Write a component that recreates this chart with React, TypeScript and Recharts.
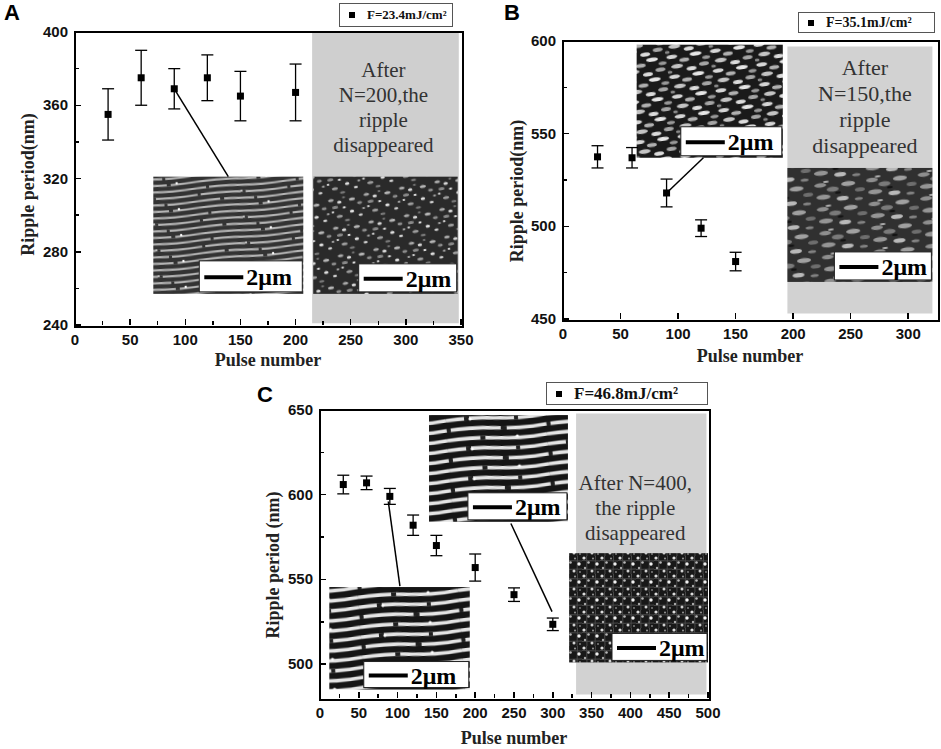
import React from 'react';
import {
  ScatterChart,
  Scatter,
  XAxis,
  YAxis,
  ErrorBar,
  ReferenceArea,
  ReferenceLine,
  Legend,
} from 'recharts';

// panel A, F=23.4 mJ/cm2
const pulsesA = [30, 60, 90, 120, 150, 200];
const periodA = [355, 375, 369, 375, 365, 367];
const errA = [14, 15, 11, 12.5, 13.5, 15.5];
const xTicksA = [0, 25, 50, 75, 100, 125, 150, 175, 200, 225, 250, 275, 300, 325, 350];
const yTicksA = [240, 260, 280, 300, 320, 340, 360, 380, 400];

// panel B, F=35.1 mJ/cm2
const pulsesB = [30, 60, 90, 120, 150];
const periodB = [537.5, 537, 518, 499, 481];
const errB = [6, 5.5, 7.5, 4.5, 5];
const xTicksB = [0, 50, 100, 150, 200, 250, 300];
const yTicksB = [450, 475, 500, 525, 550, 575, 600];

// panel C, F=46.8 mJ/cm2
const pulsesC = [30, 60, 90, 120, 150, 200, 250, 300];
const periodC = [606, 607, 599, 582, 570, 557, 541, 523.5];
const errC = [5.5, 4, 4.7, 6, 6, 8, 4, 3.7];
const xTicksC = [0, 25, 50, 75, 100, 125, 150, 175, 200, 225, 250, 275, 300, 325, 350, 375, 400, 425, 450, 475, 500];
const yTicksC = [500, 525, 550, 575, 600, 625, 650];

const build = (xs: number[], ys: number[], es: number[]) =>
  xs.map((x, i) => ({ x, y: ys[i], err: es[i] }));

const SERIF = '"Liberation Serif", "Times New Roman", serif';
const NARROW = '"Liberation Sans Narrow", "Arial Narrow", "Liberation Sans", Arial, sans-serif';

const Square = (p: any) => <rect x={p.cx - 3.5} y={p.cy - 3.5} width={7} height={7} fill="#000" />;

const xTick = (step: number) => (p: any) => {
  const v = p.payload.value;
  if (v % step !== 0) return <g />;
  return (
    <text x={p.x} y={p.y + 20} textAnchor="middle" fontFamily={NARROW} fontWeight="bold" fontSize={15} fill="#111">
      {v}
    </text>
  );
};

const yTick = (step: number) => (p: any) => {
  const v = p.payload.value;
  if (v % step !== 0) return <g />;
  return (
    <text x={p.x - 7} y={p.y + 5} textAnchor="end" fontFamily={NARROW} fontWeight="bold" fontSize={15} fill="#111">
      {v}
    </text>
  );
};

// box frame with inward ticks, laid over the plot box of a chart (plain html boxes)
type FrameProps = {
  left: number; top: number; w: number; h: number;
  xd: number[]; yd: number[]; xt: number[]; yt: number[]; xs: number; ys: number;
};
const PlotFrame = ({ left, top, w, h, xd, yd, xt, yt, xs, ys }: FrameProps) => {
  const px = (v: number) => ((v - xd[0]) / (xd[1] - xd[0])) * w;
  const py = (v: number) => h - ((v - yd[0]) / (yd[1] - yd[0])) * h;
  const mark = { position: 'absolute' as const, background: '#000' };
  return (
    <div style={{ position: 'absolute', left, top, width: w, height: h, pointerEvents: 'none' }}>
      <div style={{ position: 'absolute', left: -1, top: -1, width: w, height: h, border: '2px solid #000' }} />
      {xt.map((v) => {
        const len = v % xs === 0 ? 6 : 4;
        return <div key={`x${v}`} style={{ ...mark, left: px(v) - 0.75, top: h - len, width: 1.5, height: len }} />;
      })}
      {yt.map((v) => {
        const len = v % ys === 0 ? 6 : 4;
        return <div key={`y${v}`} style={{ ...mark, left: 0, top: py(v) - 0.75, width: len, height: 1.5 }} />;
      })}
    </div>
  );
};

const yLabel = (text: string, dx: number, dy: number) => (p: any) => {
  const vb = p.viewBox;
  const cx = vb.x + vb.width - dx;
  const cy = vb.y + vb.height / 2 + dy;
  return (
    <text x={cx} y={cy} transform={`rotate(-90 ${cx} ${cy})`} textAnchor="middle" dominantBaseline="central"
      fontFamily={SERIF} fontWeight="bold" fontSize={18} fill="#222">
      {text}
    </text>
  );
};

const xLabel = (text: string, dy: number) => (p: any) => {
  const vb = p.viewBox;
  return (
    <text x={vb.x + vb.width / 2} y={vb.y + dy} textAnchor="middle" fontFamily={SERIF} fontWeight="bold" fontSize={18} fill="#222">
      {text}
    </text>
  );
};

const grayText = (lines: string[], top: number, gap: number, size: number, dx: number) => (p: any) => {
  const vb = p.viewBox;
  return (
    <g>
      {lines.map((l, i) => (
        <text key={i} x={vb.x + vb.width / 2 + dx} y={vb.y + top + i * gap} textAnchor="middle"
          fontFamily={SERIF} fontSize={size} fill="#333">
          {l}
        </text>
      ))}
    </g>
  );
};

// micrograph inset with its 2 µm scale box
const inset = (pattern: string, bw: number, bh: number) => (p: any) => {
  const bx = p.x + p.width - bw - 1;
  const by = p.y + p.height - bh - 2;
  return (
    <g>
      <rect x={p.x} y={p.y} width={p.width} height={p.height} fill={`url(#${pattern})`} />
      <rect x={bx} y={by} width={bw} height={bh} fill="#fff" stroke="#222" strokeWidth={1} />
      <line x1={bx + 5} x2={bx + 44} y1={by + bh / 2 + 1} y2={by + bh / 2 + 1} stroke="#000" strokeWidth={4} />
      <text x={bx + 47} y={by + bh / 2 + 9} fontFamily={SERIF} fontWeight="bold" fontSize={24} fill="#000">
        2μm
      </text>
    </g>
  );
};

const legendBox = (left: number, top: number, w: number, h: number, size: number) => (
  <Legend
    layout="horizontal"
    verticalAlign="middle"
    align="center"
    wrapperStyle={{ position: 'absolute', left, top, width: w, height: h }}
    content={(p: any) => (
      <div style={{
        boxSizing: 'border-box', width: w, height: h, border: '1px solid #555', display: 'flex',
        alignItems: 'center', paddingLeft: 9, fontFamily: SERIF, fontWeight: 'bold', fontSize: size, color: '#111',
        background: '#fff',
      }}>
        <span style={{ width: 6, height: 6, background: '#000', marginRight: 12, display: 'inline-block' }} />
        <span>{p.payload && p.payload[0] ? p.payload[0].value : ''}</span>
      </div>
    )}
  />
);

// stripes with breaks at different places in each row
const stripeRows = (w: number, rowH: number, rows: number, light: string, dark: string, sw: number, dashes: string[]) =>
  Array.from({ length: rows }).map((_, i) => {
    const y = rowH * i + rowH / 2;
    const d = `M0 ${y} Q${w / 4} ${y - rowH * 0.2} ${w / 2} ${y + rowH * 0.05} T${w} ${y}`;
    return (
      <g key={i}>
        <path d={d} stroke={light} strokeWidth={sw} fill="none" />
        <path d={d} stroke={dark} strokeWidth={sw + 0.4} fill="none" strokeDasharray={dashes[i % dashes.length]} />
      </g>
    );
  });

const Patterns = () => (
  <svg width={0} height={0} style={{ position: 'absolute' }}>
    <defs>
      <pattern id="ripA" width={90} height={26} patternUnits="userSpaceOnUse" patternTransform="rotate(-5)">
        <rect width={90} height={26} fill="#333" />
        {stripeRows(90, 6.5, 4, '#b4b4b4', '#333', 2.2, ['3 40 5 42', '0 22 4 30 3 31', '0 60 4 26', '0 9 3 78'])}
        <circle cx={44} cy={3} r={1} fill="#eee" />
        <circle cx={70} cy={16} r={1.2} fill="#fff" />
      </pattern>
      <pattern id="dotsA" width={36} height={28} patternUnits="userSpaceOnUse" patternTransform="rotate(-10)">
        <rect width={36} height={28} fill="#2a2a2a" />
        <ellipse cx={3} cy={3} rx={2.8} ry={1.5} fill="#a8a8a8" />
        <ellipse cx={11} cy={6} rx={2.2} ry={1.6} fill="#d8d8d8" />
        <ellipse cx={6} cy={10.5} rx={3} ry={1.5} fill="#8a8a8a" />
        <ellipse cx={15} cy={12} rx={1.6} ry={1} fill="#eee" />
        <ellipse cx={16} cy={2} rx={1.5} ry={1} fill="#777" />
        <ellipse cx={24} cy={5} rx={3} ry={1.6} fill="#b5b5b5" />
        <ellipse cx={31} cy={10} rx={2.5} ry={1.4} fill="#8c8c8c" />
        <ellipse cx={22} cy={17} rx={2.2} ry={1.5} fill="#e0e0e0" />
        <ellipse cx={9} cy={20} rx={3} ry={1.6} fill="#9c9c9c" />
        <ellipse cx={30} cy={22} rx={2} ry={1.3} fill="#cfcfcf" />
        <ellipse cx={16} cy={25} rx={2.6} ry={1.3} fill="#777" />
        <ellipse cx={3} cy={15} rx={1.4} ry={1} fill="#ddd" />
        <ellipse cx={34} cy={16} rx={1.5} ry={1} fill="#aaa" />
      </pattern>
      <pattern id="blobB" width={44} height={20} patternUnits="userSpaceOnUse" patternTransform="rotate(-8)">
        <rect width={44} height={20} fill="#1a1a1a" />
        <ellipse cx={6} cy={3} rx={5.5} ry={2} fill="#d6d6d6" />
        <ellipse cx={18} cy={7.5} rx={5} ry={2} fill="#b0b0b0" />
        <ellipse cx={30} cy={3} rx={6} ry={2.1} fill="#e6e6e6" />
        <ellipse cx={40} cy={8} rx={4} ry={1.8} fill="#999" />
        <ellipse cx={10} cy={13} rx={6} ry={2.2} fill="#c4c4c4" />
        <ellipse cx={24} cy={17} rx={5} ry={2} fill="#dcdcdc" />
        <ellipse cx={37} cy={14} rx={5} ry={2} fill="#a5a5a5" />
        <ellipse cx={2} cy={18} rx={2.5} ry={1.5} fill="#888" />
      </pattern>
      <pattern id="mottleB" width={52} height={24} patternUnits="userSpaceOnUse" patternTransform="rotate(-6)">
        <rect width={52} height={24} fill="#303030" />
        <ellipse cx={7} cy={4} rx={6} ry={2.2} fill="#8e8e8e" />
        <ellipse cx={19} cy={9} rx={6} ry={2.5} fill="#7a7a7a" />
        <ellipse cx={13} cy={1} rx={3} ry={1} fill="#b4b4b4" />
        <ellipse cx={35} cy={5} rx={7} ry={2.5} fill="#a0a0a0" />
        <ellipse cx={46} cy={12} rx={5} ry={2} fill="#6e6e6e" />
        <ellipse cx={9} cy={16} rx={7} ry={2.5} fill="#959595" />
        <ellipse cx={28} cy={19} rx={6} ry={2.3} fill="#b9b9b9" />
        <ellipse cx={44} cy={21} rx={4} ry={1.6} fill="#828282" />
        <ellipse cx={24} cy={13} rx={3} ry={1.2} fill="#141414" />
      </pattern>
      <pattern id="ripC" width={100} height={30} patternUnits="userSpaceOnUse" patternTransform="rotate(-4)">
        <rect width={100} height={30} fill="#151515" />
        {stripeRows(100, 10, 3, '#e4e4e4', '#202020', 3.6, ['0 18 5 45 4 28', '4 50 6 40', '0 33 5 62'])}
        <circle cx={24} cy={4.8} r={1.6} fill="#fff" />
        <circle cx={70} cy={25} r={1.6} fill="#fff" />
      </pattern>
      <pattern id="dotsC" width={18} height={18} patternUnits="userSpaceOnUse">
        <rect width={18} height={18} fill="#181818" />
        <path d="M0 4.5 L18 5 M0 13.5 L18 13 M4.5 0 L5 18 M13.5 0 L13 18" stroke="#484848" strokeWidth={1} />
        <circle cx={2} cy={2} r={1.6} fill="#dcdcdc" />
        <circle cx={6.5} cy={6.5} r={1.3} fill="#b8b8b8" />
        <circle cx={11} cy={2.5} r={1} fill="#999" />
        <circle cx={15} cy={8} r={1.7} fill="#f0f0f0" />
        <circle cx={3} cy={12} r={1.2} fill="#aaa" />
        <circle cx={10} cy={15} r={1.5} fill="#d0d0d0" />
        <circle cx={16} cy={16} r={0.9} fill="#888" />
      </pattern>
    </defs>
  </svg>
);

const Letter = ({ ch, left, top }: { ch: string; left: number; top: number }) => (
  <div style={{ position: 'absolute', left, top, fontFamily: 'Arial, "Liberation Sans", sans-serif', fontWeight: 'bold', fontSize: 22, lineHeight: '22px' }}>
    {ch}
  </div>
);

const errStyle = { stroke: '#000', strokeWidth: 1.3 };
const axisCommon = { type: 'number' as const, interval: 0 as const, axisLine: false, tickLine: false, tickSize: 0, tickMargin: 0 };

export default function App() {
  return (
    <div style={{ position: 'absolute', left: 0, top: 0, width: 941, height: 749, background: '#fff', overflow: 'hidden' }}>
      <Patterns />

      {/* A */}
      <div style={{ position: 'absolute', left: 0, top: 0 }}>
        <ScatterChart width={480} height={370} margin={{ top: 32, right: 19, bottom: 25, left: 0 }}>
          <XAxis {...axisCommon} dataKey="x" domain={[0, 350]} ticks={xTicksA} height={20} tick={xTick(50)}
            label={xLabel('Pulse number', 41)} />
          <YAxis {...axisCommon} dataKey="y" domain={[240, 400]} ticks={yTicksA} width={75} tick={yTick(40)}
            label={yLabel('Ripple period(nm)', 47, 6)} />
          <ReferenceArea x1={215} x2={348} y1={241} y2={400} fill="#cfcfcf" fillOpacity={1} stroke="none"
            label={grayText(['After', 'N=200,the', 'ripple', 'disappeared'], 45, 25, 21, -2)} />
          <ReferenceArea x1={71} x2={207} y1={257} y2={321} shape={inset('ripA', 103, 31)} />
          <ReferenceArea x1={216} x2={347} y1={257} y2={321} shape={inset('dotsA', 98, 28)} />
          <ReferenceLine segment={[{ x: 90, y: 369 }, { x: 139, y: 321 }]} stroke="#000" strokeWidth={1.5} />
          <Scatter name="F=23.4mJ/cm²" data={build(pulsesA, periodA, errA)} shape={Square} isAnimationActive={false}>
            <ErrorBar dataKey="err" direction="y" width={6} {...errStyle} />
          </Scatter>
          {legendBox(339, 3, 114, 24, 13)}
        </ScatterChart>
      </div>
      <PlotFrame left={75} top={32} w={386} h={293} xd={[0, 350]} yd={[240, 400]} xt={xTicksA} yt={yTicksA} xs={50} ys={40} />

      {/* B */}
      <div style={{ position: 'absolute', left: 480, top: 0 }}>
        <ScatterChart width={461} height={380} margin={{ top: 41, right: 4, bottom: 41, left: 0 }}>
          <XAxis {...axisCommon} dataKey="x" domain={[0, 325]} ticks={xTicksB} height={20} tick={xTick(50)}
            label={xLabel('Pulse number', 43)} />
          <YAxis {...axisCommon} dataKey="y" domain={[450, 600]} ticks={yTicksB} width={83} tick={yTick(50)}
            label={yLabel('Ripple period(nm)', 46, 11)} />
          <ReferenceArea x1={195} x2={321} y1={453} y2={597} fill="#d2d2d2" fillOpacity={1} stroke="none"
            label={grayText(['After', 'N=150,the', 'ripple', 'disappeared'], 28, 26, 22, 5)} />
          <ReferenceArea x1={64} x2={191} y1={537} y2={598} shape={inset('blobB', 101, 29)} />
          <ReferenceArea x1={195} x2={321} y1={470} y2={531.5} shape={inset('mottleB', 97, 28)} />
          <ReferenceLine segment={[{ x: 90, y: 518 }, { x: 122, y: 537 }]} stroke="#000" strokeWidth={1.5} />
          <Scatter name="F=35.1mJ/cm²" data={build(pulsesB, periodB, errB)} shape={Square} isAnimationActive={false}>
            <ErrorBar dataKey="err" direction="y" width={6} {...errStyle} />
          </Scatter>
          {legendBox(318, 12, 137, 21, 14)}
        </ScatterChart>
      </div>
      <PlotFrame left={563} top={41} w={374} h={278} xd={[0, 325]} yd={[450, 600]} xt={xTicksB} yt={yTicksB} xs={50} ys={50} />

      {/* C */}
      <div style={{ position: 'absolute', left: 240, top: 340 }}>
        <ScatterChart width={500} height={409} margin={{ top: 70, right: 32, bottom: 31, left: 0 }}>
          <XAxis {...axisCommon} dataKey="x" domain={[0, 500]} ticks={xTicksC} height={20} tick={xTick(50)}
            label={xLabel('Pulse number', 46)} />
          <YAxis {...axisCommon} dataKey="y" domain={[480, 650]} ticks={yTicksC} width={80} tick={yTick(50)}
            label={yLabel('Ripple period (nm)', 47, 11)} />
          <ReferenceArea x1={330} x2={498} y1={482} y2={648} fill="#d2d2d2" fillOpacity={1} stroke="none"
            label={grayText(['After N=400,', 'the ripple', 'disappeared'], 77, 25, 21, -6)} />
          <ReferenceArea x1={12} x2={193} y1={485} y2={545.5} shape={inset('ripC', 105, 26)} />
          <ReferenceArea x1={140.5} x2={319.5} y1={584} y2={647} shape={inset('ripC', 99, 27)} />
          <ReferenceArea x1={321} x2={500} y1={501} y2={565.5} shape={inset('dotsC', 95, 27)} />
          <ReferenceLine segment={[{ x: 88, y: 596 }, { x: 103, y: 546 }]} stroke="#000" strokeWidth={1.5} />
          <ReferenceLine segment={[{ x: 246, y: 583 }, { x: 299, y: 531 }]} stroke="#000" strokeWidth={1.5} />
          <Scatter name="F=46.8mJ/cm²" data={build(pulsesC, periodC, errC)} shape={Square} isAnimationActive={false}>
            <ErrorBar dataKey="err" direction="y" width={6} {...errStyle} />
          </Scatter>
          {legendBox(306, 42, 162, 23, 17)}
        </ScatterChart>
      </div>
      <PlotFrame left={320} top={410} w={388} h={288} xd={[0, 500]} yd={[480, 650]} xt={xTicksC} yt={yTicksC} xs={50} ys={50} />

      <Letter ch="A" left={4} top={2} />
      <Letter ch="B" left={504} top={2} />
      <Letter ch="C" left={257} top={384} />
    </div>
  );
}
